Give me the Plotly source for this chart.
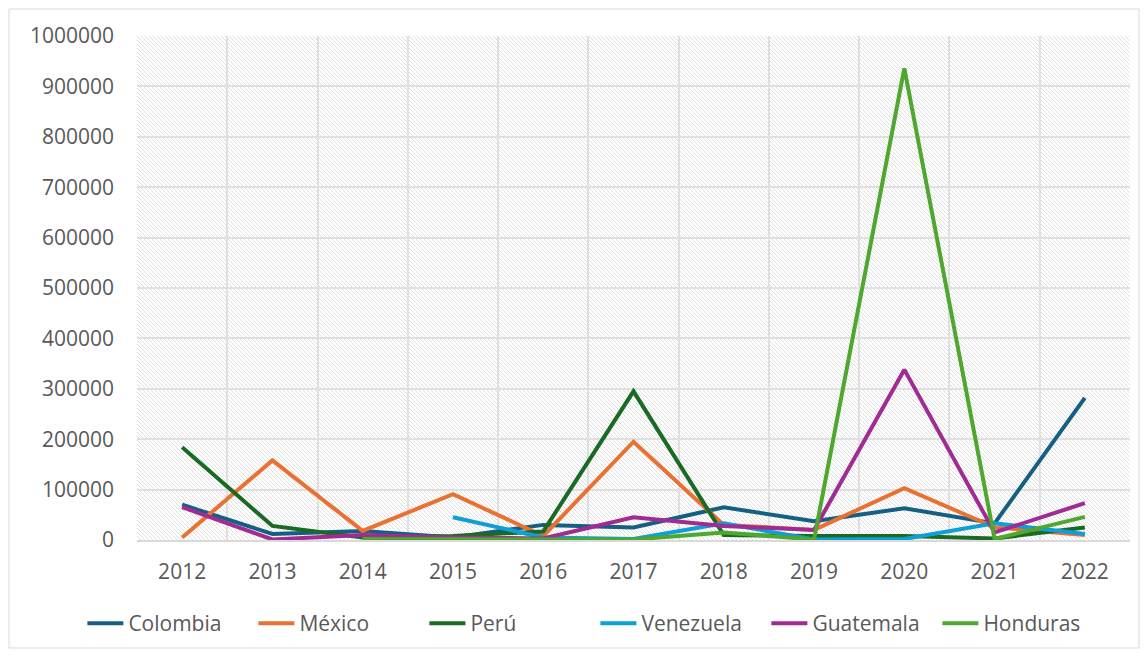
import base64
import plotly.graph_objects as go

years = ["2012", "2013", "2014", "2015", "2016", "2017", "2018", "2019", "2020", "2021", "2022"]

colombia = [70000, 12000, 18000, 5000, 30000, 25000, 65000, 37000, 63000, 33000, 282000]
mexico = [5000, 158000, 18000, 91000, 8000, 195000, 30000, 20000, 103000, 25000, 10000]
peru = [184000, 28000, 5000, 8000, 17000, 295000, 10000, 8000, 8000, 3000, 25000]
venezuela = [None, None, None, 45000, 5000, 2000, 33000, 1000, 2000, 33000, 12000]
guatemala = [65000, 1000, 10000, 5000, 3000, 45000, 28000, 20000, 338000, 15000, 73000]
honduras = [None, None, 2000, 2000, 1000, 1000, 15000, 1000, 936000, 2000, 46000]

series = [
    ("Colombia", colombia, "#156082"),
    ("México", mexico, "#E97132"),
    ("Perú", peru, "#196B24"),
    ("Venezuela", venezuela, "#0F9ED5"),
    ("Guatemala", guatemala, "#A02B93"),
    ("Honduras", honduras, "#4EA72E"),
]

fig = go.Figure()
for name, vals, color in series:
    fig.add_trace(go.Scatter(x=years, y=vals, name=name, mode="lines",
                             line=dict(color=color, width=4), connectgaps=False))

W, H = 993, 504
svg = f'''<svg xmlns="http://www.w3.org/2000/svg" width="{W}" height="{H}">
<defs><pattern id="p" patternUnits="userSpaceOnUse" width="4" height="4">
<path d="M-1,3 l2,2 M0,0 l4,4 M3,-1 l2,2" stroke="#d8d8d8" stroke-width="0.8"/>
</pattern></defs>
<rect width="{W}" height="{H}" fill="white"/>
<rect width="{W}" height="{H}" fill="url(#p)"/>
</svg>'''
src = "data:image/svg+xml;base64," + base64.b64encode(svg.encode()).decode()

fig.add_layout_image(dict(source=src, xref="paper", yref="paper", x=0, y=1,
                          sizex=1, sizey=1, xanchor="left", yanchor="top",
                          sizing="stretch", layer="below"))

font = dict(family="Open Sans, Liberation Sans, sans-serif", size=21, color="#595959")

fig.update_layout(
    width=1132, height=641,
    margin=dict(l=129, r=10, t=28, b=109, autoexpand=False),
    paper_bgcolor="white", plot_bgcolor="rgba(0,0,0,0)",
    font=font,
    showlegend=True,
    legend=dict(orientation="h", x=-0.055, xanchor="left",
                y=-0.125, yanchor="top",
                entrywidth=120, entrywidthmode="pixels", itemwidth=36,
                font=dict(size=21, color="#595959")),
    xaxis=dict(type="category", range=[-0.5, 10.5], tickson="boundaries", showgrid=True,
               gridcolor="#e0e0e0", gridwidth=1.5, showline=True, linecolor="#d9d9d9",
               linewidth=1.5, ticks="", tickfont=dict(size=21), ticklabelstandoff=12),
    yaxis=dict(range=[0, 1000000], dtick=100000, showgrid=True, gridcolor="#e0e0e0",
               gridwidth=1.5, zeroline=False, tickformat="d", ticks="",
               tickfont=dict(size=21), ticklabelstandoff=22),
    shapes=[dict(type="rect", xref="paper", yref="paper",
                 x0=-128/993, x1=1 + 9/993, y0=-108/504, y1=1 + 27/504,
                 line=dict(color="#d9d9d9", width=1), layer="below")],
)

fig.write_html("out.html")
